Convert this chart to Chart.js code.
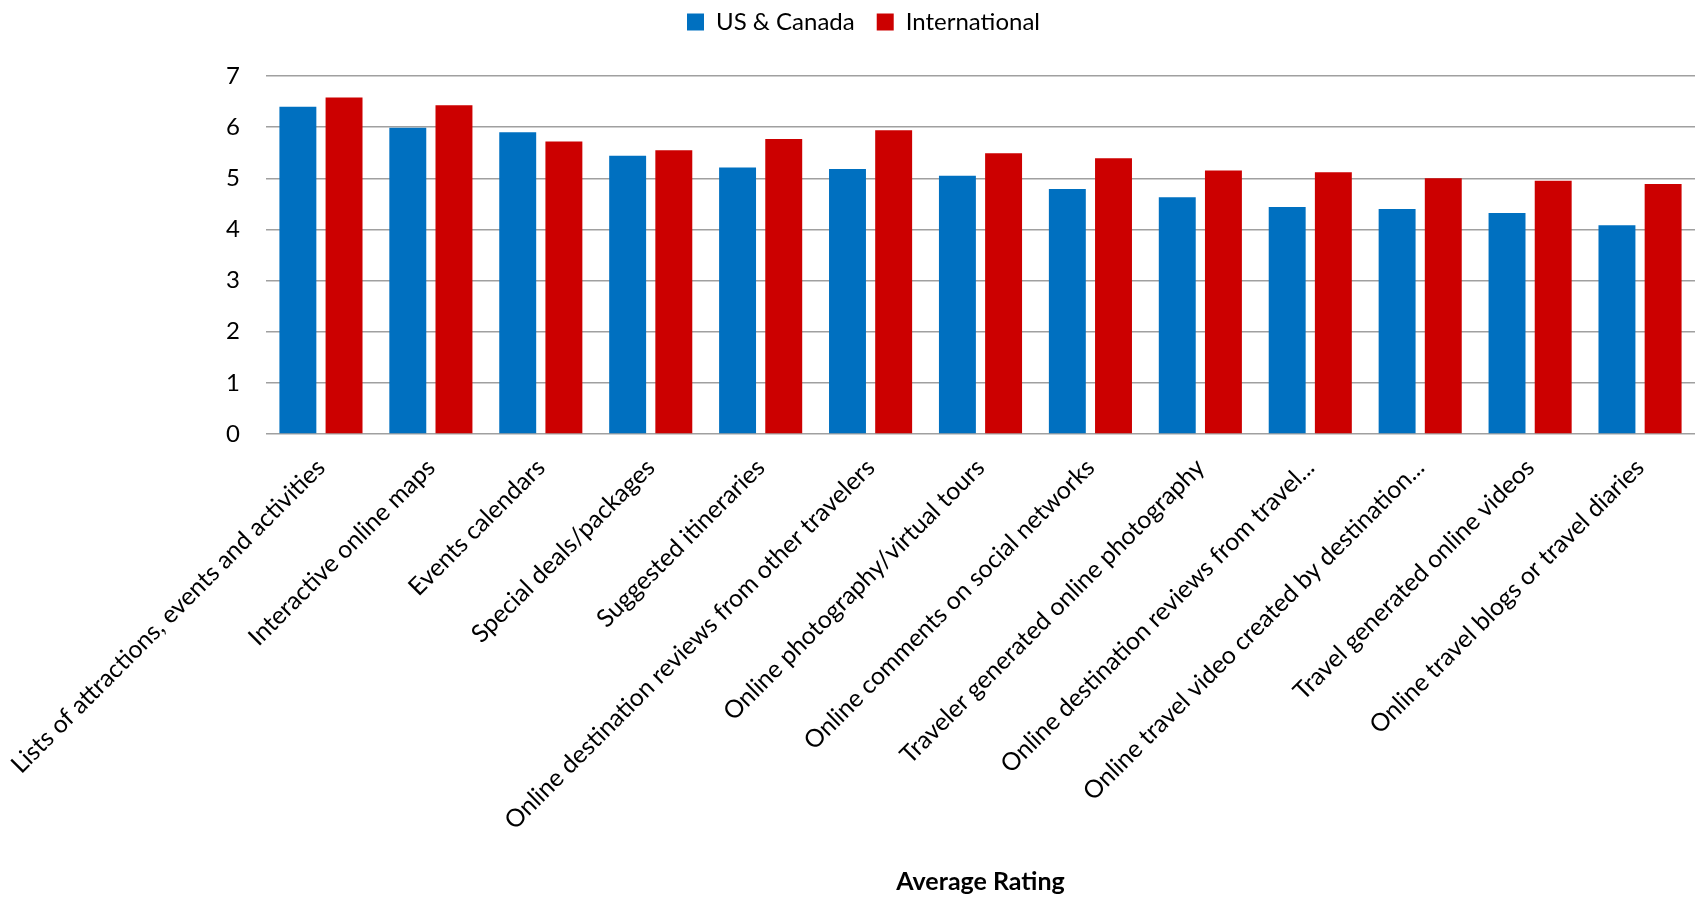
<!DOCTYPE html>
<html>
<head>
<meta charset="utf-8">
<script src="https://cdn.jsdelivr.net/npm/chart.js@4/dist/chart.umd.min.js"></script>
<style>
  html, body { margin: 0; padding: 0; background: #ffffff; }
  #wrap { width: 1698px; height: 899px; }
</style>
</head>
<body>
<div id="wrap"><canvas id="c" width="1698" height="899"></canvas></div>
<script>
const categories = [
  "Lists of attractions, events and activities",
  "Interactive online maps",
  "Events calendars",
  "Special deals/packages",
  "Suggested itineraries",
  "Online destination reviews from other travelers",
  "Online photography/virtual tours",
  "Online comments on social networks",
  "Traveler generated online photography",
  "Online destination reviews from travel...",
  "Online travel video created by destination...",
  "Travel generated online videos",
  "Online travel blogs or travel diaries"
];
const usCanada      = [6.40, 5.99, 5.90, 5.44, 5.21, 5.18, 5.05, 4.79, 4.63, 4.44, 4.40, 4.32, 4.08];
const international = [6.58, 6.43, 5.72, 5.55, 5.77, 5.94, 5.49, 5.39, 5.15, 5.12, 5.00, 4.95, 4.89];
const yTicks = [0, 1, 2, 3, 4, 5, 6, 7];
const seriesNames = ["US & Canada", "International"];
const xTitle = "Average Rating";

const FONT = "Lato, 'Open Sans', sans-serif";

const legendSpacer = {
  id: 'legendSpacer',
  beforeInit(chart) {
    const orig = chart.legend.fit;
    chart.legend.fit = function () {
      orig.bind(chart.legend)();
      this.height += 20;
    };
  },
  afterLayout(chart) {
    const lg = chart.legend;
    lg.top -= 12; lg.bottom -= 12;
    lg.left += 16; lg.right += 16;
  }
};

new Chart(document.getElementById('c'), {
  type: 'bar',
  data: {
    labels: categories,
    datasets: [
      { label: seriesNames[0], data: usCanada, backgroundColor: '#0070C0', borderWidth: 0,
        categoryPercentage: 0.84, barPercentage: 0.80 },
      { label: seriesNames[1], data: international, backgroundColor: '#CC0000', borderWidth: 0,
        categoryPercentage: 0.84, barPercentage: 0.80 }
    ]
  },
  options: {
    responsive: false,
    animation: false,
    devicePixelRatio: 1,
    layout: { padding: { top: 0, right: 3, left: 0, bottom: 2 } },
    plugins: {
      legend: {
        position: 'top',
        labels: {
          boxWidth: 17, boxHeight: 17, padding: 22,
          color: '#000', font: { family: FONT, size: 24 }
        }
      },
      tooltip: { enabled: false }
    },
    scales: {
      x: {
        grid: { display: false, drawTicks: false },
        border: { display: false },
        afterFit: (s) => { s.paddingLeft = 0; s.height = 463; },
        ticks: {
          color: '#000', font: { family: FONT, size: 24.7 },
          maxRotation: 45, minRotation: 45, autoSkip: false, padding: 19
        },
        title: {
          display: true, text: xTitle, color: '#000',
          font: { family: FONT, size: 25, weight: 'bold' },
          padding: { top: 10, bottom: 0 }
        }
      },
      y: {
        min: 0, max: 7,
        afterBuildTicks: (s) => { s.ticks = yTicks.map(v => ({ value: v })); },
        afterFit: (s) => { s.width = 266; },
        grid: { color: '#a0a0a0', lineWidth: 1.5, drawTicks: false },
        border: { display: false },
        ticks: { color: '#000', font: { family: FONT, size: 24 }, padding: 26 }
      }
    }
  },
  plugins: [legendSpacer]
});
</script>
</body>
</html>
